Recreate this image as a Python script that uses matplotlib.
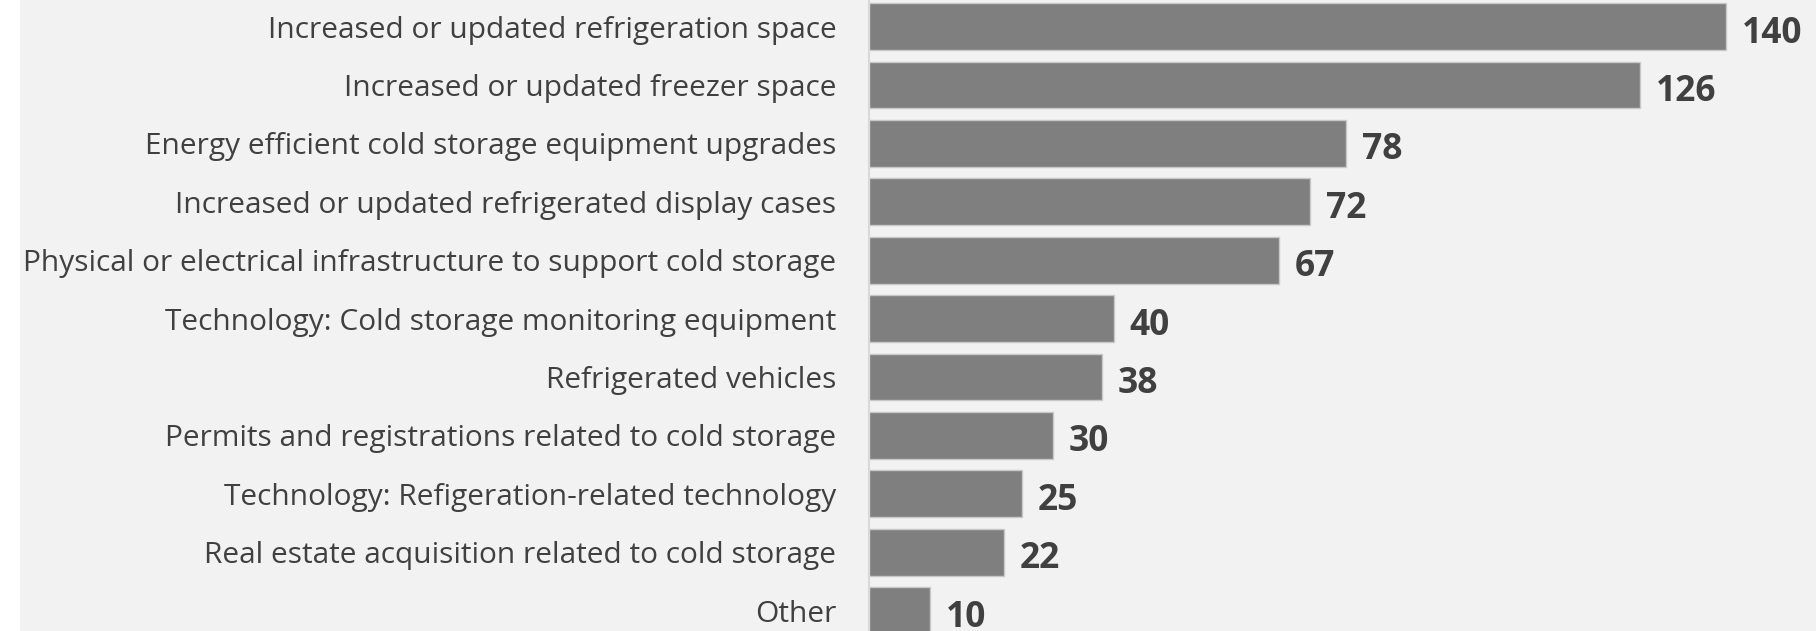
import matplotlib.pyplot as plt
from matplotlib.patches import Rectangle

categories = [
    "Increased or updated refrigeration space",
    "Increased or updated freezer space",
    "Energy efficient cold storage equipment upgrades",
    "Increased or updated refrigerated display cases",
    "Physical or electrical infrastructure to support cold storage",
    "Technology: Cold storage monitoring equipment",
    "Refrigerated vehicles",
    "Permits and registrations related to cold storage",
    "Technology: Refigeration-related technology",
    "Real estate acquisition related to cold storage",
    "Other",
]
values = [140, 126, 78, 72, 67, 40, 38, 30, 25, 22, 10]

plt.rcParams['font.family'] = ['Open Sans', 'DejaVu Sans']

W, H = 1816, 631
fig = plt.figure(figsize=(W / 100, H / 100), dpi=100, facecolor='#f2f2f2')

# thin white strip on the left edge
fig.patches.append(Rectangle((0, 0), 20 / W, 1, transform=fig.transFigure,
                             facecolor='white', edgecolor='none', zorder=-10))

ax_left = 869 / W
ax = fig.add_axes([ax_left, 0, 1 - ax_left, 1])
ax.set_facecolor('none')
ax.set_zorder(5)

y = list(range(len(values)))
ax.barh(y, values, height=0.8, color='#7f7f7f', edgecolor='#c8c8c8', linewidth=1.0)

# pixel mapping: bar 1 centre at 26.6 px, pitch 58.4 px
pitch = 58.4
ax.set_ylim((H - 26.6) / pitch, -26.6 / pitch)
ax.set_xlim(0, 140 * (W - 869) / (1726 - 869))

ax.set_yticks(y)
ax.set_yticklabels(categories, fontsize=21.5, color='#404040')
ax.tick_params(axis='y', length=0, pad=23.5)
ax.set_xticks([])

for s in ['top', 'right', 'bottom']:
    ax.spines[s].set_visible(False)
ax.spines['left'].set_color('#d9d9d9')
ax.spines['left'].set_linewidth(1.5)

for yi, v in zip(y, values):
    ax.annotate(str(v), (v, yi), xytext=(16, -16), textcoords='offset pixels',
                ha='left', va='baseline', fontsize=25.5, fontweight='bold', color='#404040')

fig.savefig('out.png', dpi=100, facecolor=fig.get_facecolor())
